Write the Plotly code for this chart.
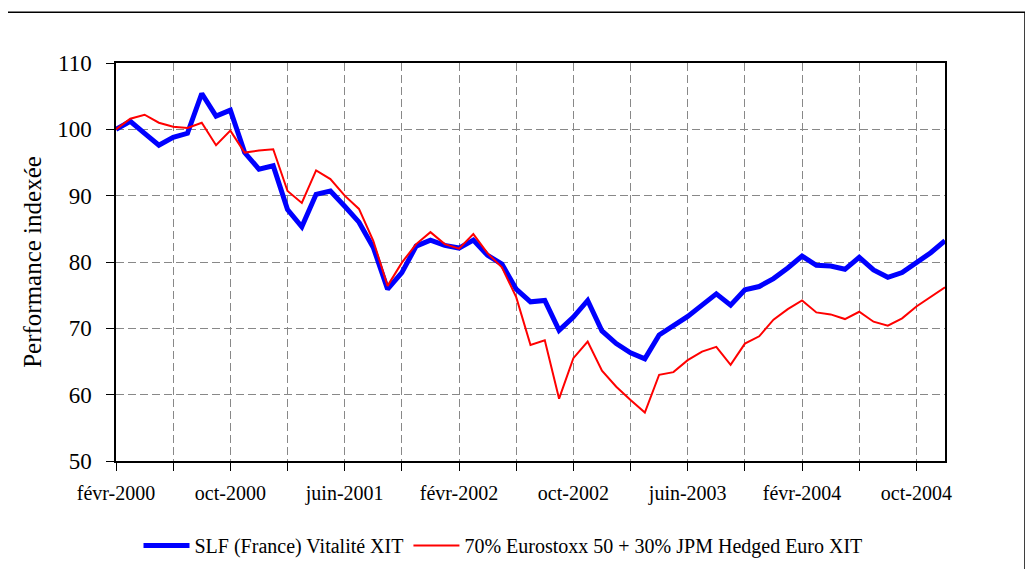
import plotly.graph_objects as go

MONTHS_FR = ["janv", "févr", "mars", "avr", "mai", "juin", "juil", "août", "sept", "oct", "nov", "déc"]

# Monthly categories: févr-2000 .. déc-2004
categories = []
for k in range(59):
    m = (1 + k) % 12
    y = 2000 + (1 + k) // 12
    categories.append(f"{MONTHS_FR[m]}-{y}")

slf_vitalite = [
    100.0, 101.2, 99.4, 97.6, 98.8, 99.4, 105.4, 102.0, 102.9, 96.5,
    94.0, 94.5, 87.9, 85.3, 90.2, 90.7, 88.4, 86.0, 82.2, 75.9,
    78.4, 82.4, 83.3, 82.5, 82.1, 83.3, 81.0, 79.7, 75.9, 74.0,
    74.2, 69.7, 71.7, 74.2, 69.6, 67.7, 66.3, 65.4, 69.0, 70.3,
    71.8, 73.5, 75.2, 73.5, 75.8, 76.3, 77.5, 79.1, 80.9, 79.5,
    79.4, 78.9, 80.7, 78.8, 77.7, 78.4, 79.8, 81.4, 83.2,
]

benchmark = [
    100.0, 101.6, 102.2, 101.0, 100.4, 100.2, 101.0, 97.6, 99.8, 96.5,
    96.8, 97.0, 90.7, 88.9, 93.8, 92.5, 90.0, 88.0, 83.2, 76.4,
    79.9, 82.7, 84.5, 82.7, 82.0, 84.2, 81.3, 79.2, 74.7, 67.5,
    68.2, 59.4, 65.5, 68.0, 63.6, 61.2, 59.2, 57.3, 63.0, 63.4,
    65.2, 66.5, 67.2, 64.5, 67.7, 68.8, 71.3, 72.9, 74.2, 72.4,
    72.1, 71.4, 72.5, 71.0, 70.4, 71.5, 73.3, 74.7, 76.2,
]

series_names = ["SLF (France) Vitalité XIT", "70% Eurostoxx 50 + 30% JPM Hedged Euro XIT"]

tick_vals = categories[::4]
tick_text = [c if i % 2 == 0 else "" for i, c in enumerate(tick_vals)]
y_ticks = [50, 60, 70, 80, 90, 100, 110]

FONT = "Liberation Serif"

fig = go.Figure()
fig.add_trace(go.Scatter(x=categories, y=slf_vitalite, mode="lines", name=series_names[0],
                         line=dict(color="#0000FF", width=5)))
fig.add_trace(go.Scatter(x=categories, y=benchmark, mode="lines", name=series_names[1],
                         line=dict(color="#FF0000", width=2)))

# page body has an 8px margin, so figure coords = screen coords - 8
OFF = 8
W, H = 1033, 569
L, R, T, B = 116 - OFF, 945 - OFF, 63 - OFF, 463 - OFF
pw, ph = R - L, B - T

def px_x(x):
    return (x - OFF - L) / pw

def px_y(y):
    return (B - (y - OFF)) / ph

fig.update_layout(
    width=W, height=H,
    margin=dict(l=L, r=W - R, t=T, b=H - B),
    paper_bgcolor="white", plot_bgcolor="white",
    font=dict(family=FONT, color="black", size=20),
    showlegend=True,
    legend=dict(orientation="h", x=px_x(503), y=px_y(548), xanchor="center", yanchor="middle",
                font=dict(size=20, family=FONT), bgcolor="rgba(0,0,0,0)",
                itemwidth=46, tracegroupgap=0),
    xaxis=dict(
        type="category", range=[0, len(categories) - 1],
        tickmode="array", tickvals=tick_vals, ticktext=tick_text,
        ticks="outside", ticklen=8, tickcolor="black", tickwidth=1,
        showline=True, linecolor="black", linewidth=1.5, mirror=True,
        showgrid=True, gridcolor="#888888", griddash="8px,4px", gridwidth=1,
        tickfont=dict(size=20, family=FONT), tickangle=0,
        ticklabelstandoff=5,
        zeroline=False,
    ),
    yaxis=dict(
        range=[50, 110], tickmode="array", tickvals=y_ticks,
        ticks="outside", ticklen=8, tickcolor="black", tickwidth=1,
        showline=True, linecolor="black", linewidth=1.5, mirror=True,
        showgrid=True, gridcolor="#888888", griddash="8px,4px", gridwidth=1,
        tickfont=dict(size=23, family=FONT), zeroline=False,
        ticklabelstandoff=10,
        title=dict(text="Performance indexée", font=dict(size=25, family=FONT), standoff=8),
    ),
    shapes=[dict(type="rect", xref="paper", yref="paper",
                 x0=px_x(7), x1=px_x(1025), y0=px_y(590), y1=px_y(12),
                 line=dict(color="black", width=1.5), fillcolor="rgba(0,0,0,0)", layer="below")],
)

fig.write_html("out.html")
